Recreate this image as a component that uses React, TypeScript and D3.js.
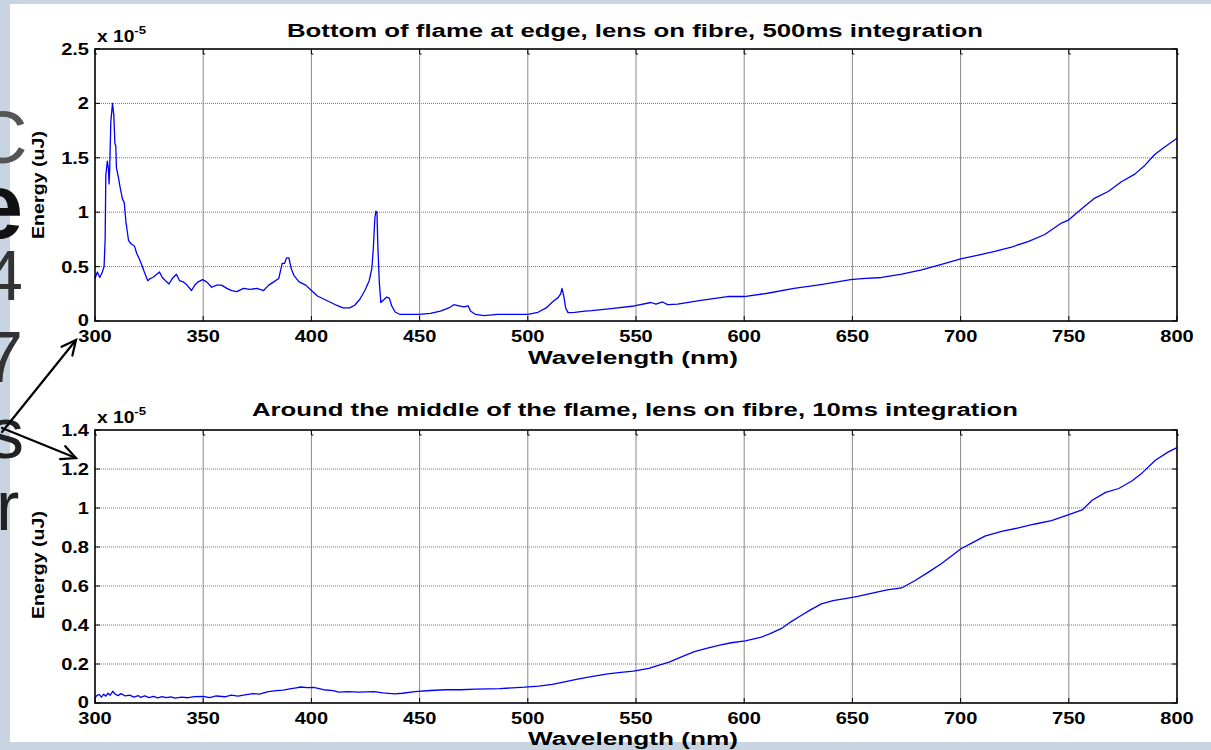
import React from "react";
import * as d3 from "d3";

const topTitle = "Bottom of flame at edge, lens on fibre, 500ms integration";
const bottomTitle = "Around the middle of the flame, lens on fibre, 10ms integration";
const xLabel = "Wavelength (nm)";
const yLabel = "Energy (uJ)";
const xTicks = [300, 350, 400, 450, 500, 550, 600, 650, 700, 750, 800];
const topYTicks = [0, 0.5, 1, 1.5, 2, 2.5];
const bottomYTicks = [0, 0.2, 0.4, 0.6, 0.8, 1, 1.2, 1.4];
const bgLetters = ["C", "e", "4", "7", "s", "r"];

// values in units of 1e-5 uJ
const topWl = [300, 301.1, 302.2, 303.4, 304.2, 304.7, 305.0, 305.7, 306.2, 306.5, 306.8, 307.3, 308.1, 308.7, 309.2, 309.6, 309.9, 310.9, 311.5, 312.7, 313.5, 314.3, 315.5, 316.6, 318.2, 319.3, 320.5, 321.7, 322.8, 324.4, 325.5, 326.7, 328.0, 329.8, 331.1, 332.6, 334.2, 335.7, 337.6, 339.1, 340.7, 342.5, 344.6, 346.1, 347.7, 349.7, 351.6, 353.9, 356.2, 358.5, 360.9, 363.2, 365.5, 368.6, 371.7, 374.8, 377.9, 380.3, 382.6, 384.9, 386.5, 387.6, 388.5, 389.6, 390.7, 391.9, 394.3, 397.4, 400, 402.8, 405.9, 409, 411.5, 414.6, 417.7, 420, 422.4, 424.7, 426.7, 427.9, 428.6, 429.3, 429.8, 430.3, 430.7, 431.4, 432.1, 433.2, 434.8, 436, 437.1, 438.7, 441, 445.7, 450, 455, 459.6, 463.5, 465.8, 468.2, 470.5, 472.4, 473.6, 475.9, 479.8, 486, 492.2, 500, 504.7, 508.5, 511.6, 514, 515.2, 515.8, 516.6, 517.5, 518.6, 521.7, 526.4, 529.5, 538.5, 549.2, 556.9, 559.2, 562.3, 564.6, 569.2, 580, 592.3, 600, 610.8, 623, 635.4, 649.2, 654.3, 663.5, 672.8, 682, 691.2, 700, 708.2, 715.8, 723.5, 731.2, 738.9, 746.6, 750, 755.8, 762, 768.2, 774.3, 780.5, 785.1, 789.7, 794.3, 800];
const topVal = [0.39, 0.45, 0.40, 0.45, 0.50, 0.76, 1.34, 1.47, 1.40, 1.26, 1.40, 1.83, 2.00, 1.89, 1.63, 1.61, 1.41, 1.31, 1.24, 1.12, 1.09, 0.91, 0.74, 0.71, 0.69, 0.62, 0.57, 0.51, 0.45, 0.37, 0.39, 0.40, 0.42, 0.45, 0.40, 0.37, 0.34, 0.39, 0.43, 0.37, 0.36, 0.33, 0.28, 0.33, 0.36, 0.38, 0.36, 0.31, 0.33, 0.33, 0.30, 0.28, 0.27, 0.30, 0.29, 0.30, 0.28, 0.33, 0.36, 0.39, 0.53, 0.53, 0.58, 0.58, 0.48, 0.42, 0.36, 0.33, 0.28, 0.23, 0.20, 0.17, 0.145, 0.12, 0.12, 0.145, 0.20, 0.28, 0.37, 0.48, 0.66, 0.94, 1.01, 1.00, 0.69, 0.35, 0.17, 0.19, 0.22, 0.21, 0.14, 0.083, 0.06, 0.06, 0.06, 0.07, 0.09, 0.12, 0.15, 0.14, 0.13, 0.14, 0.09, 0.06, 0.05, 0.06, 0.06, 0.06, 0.08, 0.12, 0.18, 0.215, 0.25, 0.30, 0.23, 0.12, 0.077, 0.08, 0.09, 0.095, 0.114, 0.138, 0.17, 0.155, 0.175, 0.15, 0.155, 0.19, 0.225, 0.225, 0.255, 0.30, 0.335, 0.38, 0.39, 0.40, 0.43, 0.47, 0.52, 0.57, 0.605, 0.64, 0.68, 0.73, 0.795, 0.90, 0.93, 1.03, 1.13, 1.19, 1.28, 1.35, 1.43, 1.53, 1.60, 1.68];

const bottomWl = [300, 301, 302, 303, 304, 305, 306, 307, 308.2, 309.4, 310.6, 312, 314, 316, 318, 320, 321, 323, 325, 327, 329, 331, 333, 335, 337, 340, 343, 346, 350, 353, 356, 360, 363, 366, 370, 373, 376, 380, 384, 387, 390, 393, 395, 398, 401, 405.6, 410, 412.7, 417, 422, 429, 433, 438.5, 442, 447.9, 455, 462, 469, 476, 487, 498.6, 505, 511.3, 517, 523, 530, 537, 543, 548.8, 555.9, 560, 565.3, 571, 577, 583, 588.7, 594, 600.5, 607.5, 612, 617, 621, 626.3, 631, 635.7, 641, 647.4, 653, 659.2, 666, 672.7, 678.8, 685, 691.2, 695.8, 700, 705.1, 711.2, 718.9, 726.7, 734.4, 742, 750, 756.2, 760.8, 767, 773.1, 779.3, 783.9, 790, 796, 800];
const bottomVal = [0.026, 0.040, 0.043, 0.030, 0.045, 0.035, 0.050, 0.040, 0.060, 0.045, 0.038, 0.048, 0.036, 0.040, 0.030, 0.038, 0.029, 0.036, 0.028, 0.034, 0.026, 0.033, 0.027, 0.032, 0.025, 0.030, 0.027, 0.033, 0.034, 0.028, 0.036, 0.032, 0.040, 0.035, 0.043, 0.048, 0.046, 0.058, 0.063, 0.066, 0.072, 0.078, 0.082, 0.079, 0.080, 0.068, 0.063, 0.056, 0.058, 0.056, 0.058, 0.052, 0.047, 0.050, 0.058, 0.064, 0.068, 0.068, 0.071, 0.074, 0.081, 0.087, 0.095, 0.108, 0.122, 0.136, 0.149, 0.157, 0.163, 0.178, 0.192, 0.21, 0.237, 0.263, 0.282, 0.297, 0.309, 0.319, 0.336, 0.356, 0.381, 0.412, 0.449, 0.480, 0.508, 0.525, 0.537, 0.548, 0.564, 0.58, 0.59, 0.627, 0.67, 0.715, 0.754, 0.79, 0.82, 0.856, 0.88, 0.898, 0.918, 0.935, 0.966, 0.99, 1.04, 1.08, 1.10, 1.14, 1.18, 1.245, 1.288, 1.31];

const FONT = "'Liberation Sans', Arial, Helvetica, sans-serif";

type PanelProps = {
  wl: number[];
  val: number[];
  yTicks: number[];
  yMax: number;
  top: number;
  bottom: number;
  title: string;
  titleY: number;
  titleLen: number;
  xLabelY: number;
  yLabelX: number;
  yLabelCenter: number;
};

const LEFT = 95;
const RIGHT = 1177;

function Panel(p: PanelProps) {
  const x = d3.scaleLinear().domain([300, 800]).range([LEFT, RIGHT]);
  const y = d3.scaleLinear().domain([0, p.yMax]).range([p.bottom, p.top]);
  const data = p.wl.map((w, i) => [w, p.val[i]] as [number, number]);
  const line = d3
    .line<[number, number]>()
    .x((d) => x(d[0]))
    .y((d) => y(d[1]));
  const tl = 5;
  return (
    <g>
      {xTicks.map((t) =>
        t === 300 || t === 800 ? null : (
          <line key={"gx" + t} x1={x(t)} x2={x(t)} y1={p.top} y2={p.bottom} stroke="#8a8a8a" strokeWidth={1} />
        )
      )}
      {p.yTicks.map((t) =>
        t === 0 || t === p.yMax ? null : (
          <line key={"gy" + t} x1={LEFT} x2={RIGHT} y1={y(t)} y2={y(t)} stroke="#777" strokeWidth={1} strokeDasharray="1,1" />
        )
      )}
      {xTicks.map((t) => (
        <g key={"tx" + t}>
          <line x1={x(t)} x2={x(t)} y1={p.bottom} y2={p.bottom - tl} stroke="#000" />
          <line x1={x(t)} x2={x(t)} y1={p.top} y2={p.top + tl} stroke="#000" />
          <line x1={x(t)} x2={x(t) + 2} y1={p.top + tl} y2={p.top + tl} stroke="#000" />
        </g>
      ))}
      {p.yTicks.map((t) => (
        <g key={"ty" + t}>
          <line x1={LEFT} x2={LEFT + tl} y1={y(t)} y2={y(t)} stroke="#000" />
          <line x1={RIGHT} x2={RIGHT - tl} y1={y(t)} y2={y(t)} stroke="#000" />
        </g>
      ))}
      <path d={line(data) || ""} fill="none" stroke="#0000ff" strokeWidth={1.3} strokeLinejoin="round" />
      <rect x={LEFT} y={p.top} width={RIGHT - LEFT} height={p.bottom - p.top} fill="none" stroke="#000" strokeWidth={1.6} />
      {xTicks.map((t) => (
        <text
          key={"lx" + t}
          transform={`translate(${x(t)},${p.bottom + 21}) scale(1.18,1)`}
          textAnchor="middle"
          fontFamily={FONT}
          fontWeight="bold"
          fontSize={17}
          fill="#000"
        >
          {t}
        </text>
      ))}
      {p.yTicks.map((t) => (
        <text
          key={"ly" + t}
          transform={`translate(${LEFT - 6},${y(t) + (t === 0 ? 5 : 6)}) scale(1.18,1)`}
          textAnchor="end"
          fontFamily={FONT}
          fontWeight="bold"
          fontSize={17}
          fill="#000"
        >
          {t}
        </text>
      ))}
      <text transform={`translate(${LEFT + 2},${p.top - 7}) scale(1.2,1)`} fontFamily={FONT} fontWeight="bold" fontSize={16} fill="#000">
        x 10
        <tspan dy={-8} fontSize={11}>-5</tspan>
      </text>
      <text x={635} y={p.titleY} textAnchor="middle" fontFamily={FONT} fontWeight="bold" fontSize={18} fill="#000" textLength={p.titleLen} lengthAdjust="spacingAndGlyphs">
        {p.title}
      </text>
      <text x={633} y={p.xLabelY} textAnchor="middle" fontFamily={FONT} fontWeight="bold" fontSize={18} fill="#000" textLength={210} lengthAdjust="spacingAndGlyphs">
        {xLabel}
      </text>
      <text
        transform={`translate(${p.yLabelX},${p.yLabelCenter}) rotate(-90)`}
        textAnchor="middle"
        fontFamily="'Liberation Sans Narrow', 'Arial Narrow', 'Liberation Sans', Arial, sans-serif"
        fontWeight="bold"
        fontSize={17}
        fill="#000"
        textLength={108}
        lengthAdjust="spacingAndGlyphs"
      >
        {yLabel}
      </text>
    </g>
  );
}

function Arrow({ x1, y1, x2, y2 }: { x1: number; y1: number; x2: number; y2: number }) {
  const ang = Math.atan2(y2 - y1, x2 - x1);
  const len = 16;
  const spread = 0.45;
  const ax = x2 - len * Math.cos(ang - spread);
  const ay = y2 - len * Math.sin(ang - spread);
  const bx = x2 - len * Math.cos(ang + spread);
  const by = y2 - len * Math.sin(ang + spread);
  return (
    <g stroke="#000" strokeWidth={2.2} fill="none" strokeLinecap="round">
      <line x1={x1} y1={y1} x2={x2} y2={y2} />
      <polyline points={`${ax},${ay} ${x2},${y2} ${bx},${by}`} />
    </g>
  );
}

export default function App() {
  const letters = [
    { x: -26, y: 163, size: 74, weight: "normal", color: "#555" },
    { x: -28, y: 238, size: 92, weight: "bold", color: "#111" },
    { x: -16, y: 300, size: 70, weight: "normal", color: "#333" },
    { x: -17, y: 382, size: 72, weight: "normal", color: "#333" },
    { x: -12, y: 458, size: 72, weight: "normal", color: "#222" },
    { x: -4, y: 530, size: 70, weight: "normal", color: "#222" },
  ];
  return (
    <svg width={1211} height={750} style={{ position: "absolute", left: 0, top: 0 }}>
      <rect x={0} y={0} width={1211} height={750} fill="#c8d4e2" />
      <rect x={10} y={4} width={1201} height={738} fill="#ffffff" />
      {bgLetters.map((c, i) => (
        <text
          key={"bg" + i}
          x={letters[i].x}
          y={letters[i].y}
          fontFamily={FONT}
          fontSize={letters[i].size}
          fontWeight={letters[i].weight}
          fill={letters[i].color}
        >
          {c}
        </text>
      ))}
      <Arrow x1={2} y1={432} x2={76} y2={340} />
      <Arrow x1={2} y1={428} x2={76} y2={458} />
      <Panel
        wl={topWl}
        val={topVal}
        yTicks={topYTicks}
        yMax={2.5}
        top={49}
        bottom={321}
        title={topTitle}
        titleY={37}
        titleLen={696}
        xLabelY={364}
        yLabelX={44}
        yLabelCenter={185}
      />
      <Panel
        wl={bottomWl}
        val={bottomVal}
        yTicks={bottomYTicks}
        yMax={1.4}
        top={430}
        bottom={703}
        title={bottomTitle}
        titleY={416}
        titleLen={766}
        xLabelY={745}
        yLabelX={44}
        yLabelCenter={565}
      />
    </svg>
  );
}
